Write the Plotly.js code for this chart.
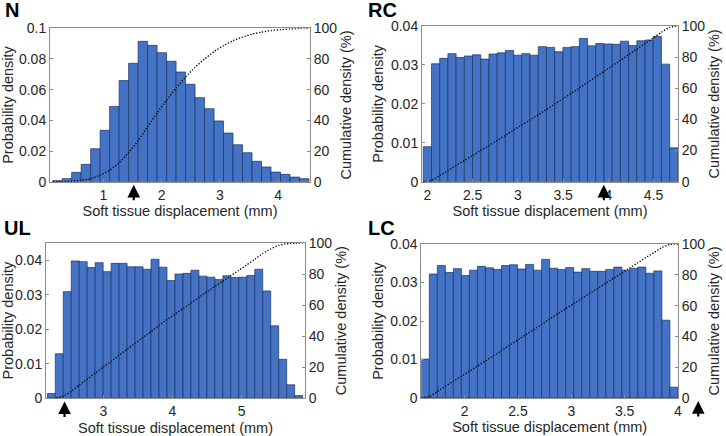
<!DOCTYPE html>
<html><head><meta charset="utf-8">
<script src="https://cdn.plot.ly/plotly-3.0.1.min.js"></script>
<style>html,body{margin:0;padding:0;background:#fff;} #chart{width:726px;height:436px;}</style>
</head><body><div id="chart"></div>
<script>
// ---------- DATA ----------
const panelLabels = ["N", "RC", "UL", "LC"];
const xTitle = "Soft tissue displacement (mm)";
const yLeftTitle = "Probability density";
const yRightTitle = "Cumulative density (%)";

// N
const nFirstEdge = 0.129, nBinWidth = 0.1629;
const nDensity = [0.0007, 0.0020, 0.0061, 0.0113, 0.0215, 0.0335, 0.0491, 0.0659, 0.0772, 0.0915, 0.0889, 0.0841, 0.0785, 0.0715, 0.0635, 0.0548, 0.0476, 0.0396, 0.0317, 0.0241, 0.0189, 0.0133, 0.0096, 0.0063, 0.0048, 0.0030, 0.0020];
const nCdf = [0, 0.1, 0.3, 0.9, 2.0, 4.2, 7.5, 12.4, 19.0, 26.7, 35.9, 44.8, 53.2, 61.0, 68.2, 74.5, 80.0, 84.8, 88.7, 91.9, 94.3, 96.2, 97.5, 98.5, 99.1, 99.6, 99.9, 100];
const nArrow = 1.52;
const nXTicks = [1, 2, 3, 4];
const nXTickText = ["1", "2", "3", "4"];
const nYTicks = [0, 0.02, 0.04, 0.06, 0.08, 0.1];
const nYTickText = ["0", "0.02", "0.04", "0.06", "0.08", "0.1"];

// RC
const rcFirstEdge = 1.954, rcBinWidth = 0.0908;
const rcDensity = [0.0090, 0.0303, 0.0317, 0.0329, 0.0319, 0.0323, 0.0326, 0.0315, 0.0328, 0.0331, 0.0337, 0.0325, 0.0329, 0.0325, 0.0347, 0.0345, 0.0334, 0.0345, 0.0347, 0.0368, 0.0349, 0.0355, 0.0354, 0.0353, 0.0361, 0.0350, 0.0362, 0.0364, 0.0373, 0.0302, 0.0087];
const rcCdf = [0, 0.9, 3.9, 7.1, 10.4, 13.6, 16.8, 20.1, 23.2, 26.5, 29.8, 33.2, 36.4, 39.7, 43.0, 46.4, 49.9, 53.2, 56.7, 60.2, 63.8, 67.3, 70.9, 74.4, 77.9, 81.6, 85.1, 88.7, 92.3, 96.0, 99.1, 100];
const rcArrow = 3.95;
const rcXTicks = [2, 2.5, 3, 3.5, 4, 4.5];
const rcXTickText = ["2", "2.5", "3", "3.5", "4", "4.5"];
const rcYTicks = [0, 0.01, 0.02, 0.03, 0.04];
const rcYTickText = ["0", "0.01", "0.02", "0.03", "0.04"];

// UL
const ulFirstEdge = 2.191, ulBinWidth = 0.1153;
const ulDensity = [0.0014, 0.0129, 0.0309, 0.0398, 0.0396, 0.0379, 0.0393, 0.0367, 0.0391, 0.0391, 0.0381, 0.0381, 0.0374, 0.0403, 0.0380, 0.0341, 0.0360, 0.0362, 0.0371, 0.0354, 0.0351, 0.0344, 0.0355, 0.0350, 0.0351, 0.0356, 0.0374, 0.0311, 0.0210, 0.0113, 0.0039, 0.0008];
const ulCdf = [0, 0.1, 1.4, 4.5, 8.5, 12.4, 16.2, 20.1, 23.8, 27.7, 31.6, 35.4, 39.2, 42.9, 46.9, 50.7, 54.1, 57.7, 61.3, 65.0, 68.5, 72.0, 75.4, 79.0, 82.4, 85.9, 89.5, 93.2, 96.3, 98.4, 99.5, 99.9, 100];
const ulArrow = 2.44;
const ulXTicks = [3, 4, 5];
const ulXTickText = ["3", "4", "5"];
const ulYTicks = [0, 0.01, 0.02, 0.03, 0.04];
const ulYTickText = ["0", "0.01", "0.02", "0.03", "0.04"];

// LC
const lcFirstEdge = 1.593, lcBinWidth = 0.0752;
const lcDensity = [0.0101, 0.0322, 0.0344, 0.0326, 0.0336, 0.0318, 0.0332, 0.0342, 0.0338, 0.0334, 0.0344, 0.0346, 0.0335, 0.0347, 0.0332, 0.0360, 0.0337, 0.0334, 0.0339, 0.0327, 0.0336, 0.0329, 0.0329, 0.0334, 0.0340, 0.0332, 0.0337, 0.0340, 0.0324, 0.0330, 0.0202, 0.0028];
const lcCdf = [0, 1.0, 4.2, 7.6, 10.9, 14.2, 17.4, 20.7, 24.1, 27.4, 30.8, 34.2, 37.6, 41.0, 44.4, 47.7, 51.3, 54.6, 58.0, 61.3, 64.6, 67.9, 71.2, 74.5, 77.8, 81.2, 84.5, 87.8, 91.2, 94.4, 97.7, 99.7, 100];
const lcArrow = 4.19;
const lcXTicks = [2, 2.5, 3, 3.5, 4];
const lcXTickText = ["2", "2.5", "3", "3.5", "4"];
const lcYTicks = [0, 0.01, 0.02, 0.03, 0.04];
const lcYTickText = ["0", "0.01", "0.02", "0.03", "0.04"];

const cdfTicks = [0, 20, 40, 60, 80, 100];
const cdfTickText = ["0", "20", "40", "60", "80", "100"];

// ---------- LAYOUT / STYLE ----------
const FONT = "Liberation Sans, Arial, Helvetica, sans-serif";
const TXT = "#262626";
const BAR = "#4472C4";
const EDGE = "#1d3260";
const AXC = "#8c8c8c";

const panels = [
  {first: nFirstEdge, w: nBinWidth, dens: nDensity, cdf: nCdf, arrow: nArrow,
   xt: nXTicks, xtt: nXTickText, yt: nYTicks, ytt: nYTickText,
   xr: [0.083, 4.545], yr: [0, 0.1], dx: [50, 310], dy: [28.3, 181.7]},
  {first: rcFirstEdge, w: rcBinWidth, dens: rcDensity, cdf: rcCdf, arrow: rcArrow,
   xt: rcXTicks, xtt: rcXTickText, yt: rcYTicks, ytt: rcYTickText,
   xr: [1.94, 4.77], yr: [0, 0.04], dx: [422, 678], dy: [26, 181.7]},
  {first: ulFirstEdge, w: ulBinWidth, dens: ulDensity, cdf: ulCdf, arrow: ulArrow,
   xt: ulXTicks, xtt: ulXTickText, yt: ulYTicks, ytt: ulYTickText,
   xr: [2.172, 5.915], yr: [0, 0.045], dx: [46, 305], dy: [243, 398.3]},
  {first: lcFirstEdge, w: lcBinWidth, dens: lcDensity, cdf: lcCdf, arrow: lcArrow,
   xt: lcXTicks, xtt: lcXTickText, yt: lcYTicks, ytt: lcYTickText,
   xr: [1.593, 4.0], yr: [0, 0.04], dx: [421.3, 678], dy: [244, 398]}
];
const labelPos = [[3, 10], [366, 10], [2, 228], [366, 228]];

const W = 726, H = 436;
const traces = [];
const layout = {
  width: W, height: H, margin: {l: 0, r: 0, t: 0, b: 0},
  paper_bgcolor: "#fff", plot_bgcolor: "rgba(0,0,0,0)",
  showlegend: false, bargap: 0,
  font: {family: FONT, size: 14, color: TXT},
  annotations: []
};

panels.forEach((p, i) => {
  const k = i + 1;
  const xid = k === 1 ? "x" : "x" + k;
  const yl = 2 * i + 1, yr = 2 * i + 2;
  const ylid = yl === 1 ? "y" : "y" + yl;
  const yrid = "y" + yr;
  const xName = k === 1 ? "xaxis" : "xaxis" + k;
  const ylName = yl === 1 ? "yaxis" : "yaxis" + yl;
  const yrName = "yaxis" + yr;
  const domX = [p.dx[0] / W, p.dx[1] / W];
  const domY = [(H - p.dy[1]) / H, (H - p.dy[0]) / H];

  traces.push({
    type: "bar", xaxis: xid, yaxis: ylid,
    x0: p.first + p.w / 2, dx: p.w, y: p.dens, width: p.w,
    marker: {color: BAR, line: {color: EDGE, width: 0.7}},
    hoverinfo: "skip"
  });
  traces.push({
    type: "scatter", mode: "lines", xaxis: xid, yaxis: yrid,
    x0: p.first, dx: p.w, y: p.cdf,
    line: {color: "#000", width: 1.3, dash: "1.3px,1.7px", shape: "spline", smoothing: 0.6},
    hoverinfo: "skip", cliponaxis: true
  });

  layout[xName] = {
    domain: domX, anchor: ylid, range: p.xr, tickvals: p.xt, ticktext: p.xtt,
    ticks: "inside", ticklen: 3, tickcolor: AXC, showline: true, linecolor: AXC, linewidth: 1,
    mirror: true, showgrid: false, zeroline: false,
    tickfont: {family: FONT, size: 14, color: TXT},
    title: {text: xTitle, font: {family: FONT, size: 14.5, color: TXT}, standoff: 4}
  };
  layout[ylName] = {
    domain: domY, anchor: xid, range: p.yr, tickvals: p.yt, ticktext: p.ytt,
    ticks: "inside", ticklen: 3, tickcolor: AXC, showline: true, linecolor: AXC, linewidth: 1,
    showgrid: false, zeroline: false,
    tickfont: {family: FONT, size: 14, color: TXT},
    title: {text: yLeftTitle, font: {family: FONT, size: 14.5, color: TXT}, standoff: 3}
  };
  layout[yrName] = {
    overlaying: ylid, side: "right", anchor: xid, range: [0, 100], tickvals: cdfTicks, ticktext: cdfTickText,
    ticks: "inside", ticklen: 3, tickcolor: AXC, showline: true, linecolor: AXC, linewidth: 1,
    showgrid: false, zeroline: false,
    tickfont: {family: FONT, size: 14, color: TXT},
    title: {text: yRightTitle, font: {family: FONT, size: 14.5, color: TXT}, standoff: 4}
  };

  // upward arrow below x axis marking a value
  const inRange = p.arrow >= p.xr[0] && p.arrow <= p.xr[1];
  layout.annotations.push({
    xref: inRange ? xid : xid + " domain",
    x: inRange ? p.arrow : (p.arrow - p.xr[0]) / (p.xr[1] - p.xr[0]),
    yref: ylid + " domain", y: -0.02,
    showarrow: true, arrowhead: 2, arrowsize: 1.15, arrowwidth: 2.2, arrowcolor: "#000",
    ax: 0, ay: 17, text: ""
  });
  // panel label
  layout.annotations.push({
    xref: "paper", yref: "paper", x: labelPos[i][0] / W, y: 1 - labelPos[i][1] / H,
    xanchor: "left", yanchor: "middle", showarrow: false,
    text: "<b>" + panelLabels[i] + "</b>", font: {family: FONT, size: 20, color: "#000"}
  });
});

Plotly.newPlot("chart", traces, layout, {staticPlot: true});
</script>
</body></html>
